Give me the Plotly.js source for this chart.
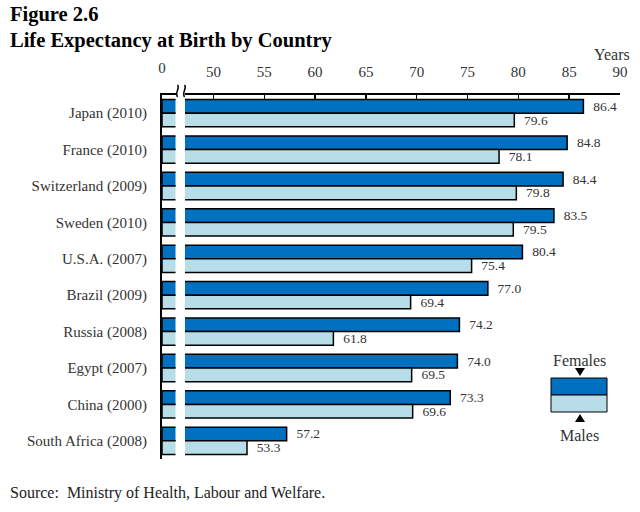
<!DOCTYPE html>
<html>
<head>
<meta charset="utf-8">
<script src="https://cdn.plot.ly/plotly-3.0.1.min.js"></script>
<style>html,body{margin:0;padding:0;background:#fff;}</style>
</head>
<body>
<div id="chart" style="width:640px;height:512px;"></div>
<script>
const countries = ["Japan (2010)","France (2010)","Switzerland (2009)","Sweden (2010)","U.S.A. (2007)","Brazil (2009)","Russia (2008)","Egypt (2007)","China (2000)","South Africa (2008)"];
const females = [86.4, 84.8, 84.4, 83.5, 80.4, 77.0, 74.2, 74.0, 73.3, 57.2];
const males = [79.6, 78.1, 79.8, 79.5, 75.4, 69.4, 61.8, 69.5, 69.6, 53.3];
const ticks = [50, 55, 60, 65, 70, 75, 80, 85, 90];

const FEM = "#0070C0", MAL = "#B7DDE8";
const SERIF = "Liberation Serif, Times New Roman, serif";
const L = 162, R = 620, T = 95, B = 459;
const W = R - L, H = B - T;
const px = x => (x - L) / W;
const py = y => 1 - (y - T) / H;

const line = {color: "#000", width: 1.5};
const valFont = {family: SERIF, size: 13.5, color: "#333"};
const traces = [
  {type: "bar", orientation: "h", name: "Females", y: countries, x: females, xaxis: "x", yaxis: "y",
   marker: {color: FEM, line: line}, textposition: "none", hoverinfo: "skip", showlegend: false},
  {type: "bar", orientation: "h", name: "Males", y: countries, x: males, xaxis: "x", yaxis: "y",
   marker: {color: MAL, line: line}, textposition: "none", hoverinfo: "skip", showlegend: false},
  {type: "bar", orientation: "h", name: "Females", y: countries, x: females, xaxis: "x2", yaxis: "y",
   marker: {color: FEM, line: line}, texttemplate: "\u00a0\u00a0%{x:.1f}", textposition: "outside",
   constraintext: "none", cliponaxis: false, textfont: valFont, showlegend: false},
  {type: "bar", orientation: "h", name: "Males", y: countries, x: males, xaxis: "x2", yaxis: "y",
   marker: {color: MAL, line: line}, texttemplate: "\u00a0\u00a0%{x:.1f}", textposition: "outside",
   constraintext: "none", cliponaxis: false, textfont: valFont, showlegend: false}
];

function sq(x0) {
  return `M ${px(x0)},${py(85)} C ${px(x0+3)},${py(88)} ${px(x0-3)},${py(92)} ${px(x0)},${py(97)}`;
}

const shapes = [
  {type: "path", xref: "paper", yref: "paper", path: sq(177.5), line: {color: "#000", width: 1.5}},
  {type: "path", xref: "paper", yref: "paper", path: sq(184.5), line: {color: "#000", width: 1.5}},
  {type: "rect", xref: "paper", yref: "paper", x0: px(551), x1: px(607), y0: py(378), y1: py(395),
   fillcolor: FEM, line: {color: "#000", width: 1}},
  {type: "rect", xref: "paper", yref: "paper", x0: px(551), x1: px(607), y0: py(395), y1: py(412),
   fillcolor: MAL, line: {color: "#000", width: 1}},
  {type: "path", xref: "paper", yref: "paper",
   path: `M ${px(575)},${py(368)} L ${px(585)},${py(368)} L ${px(580)},${py(376)} Z`, fillcolor: "#000", line: {width: 0}},
  {type: "path", xref: "paper", yref: "paper",
   path: `M ${px(575)},${py(422)} L ${px(585)},${py(422)} L ${px(580)},${py(414)} Z`, fillcolor: "#000", line: {width: 0}}
];

const ann = (x, y, text, opts) => Object.assign({xref: "paper", yref: "paper", x: px(x), y: py(y), text: text,
  showarrow: false, font: {family: SERIF, size: 16, color: "#333"}}, opts || {});

const annotations = [
  ann(8, 15, "<b>Figure 2.6</b>", {xanchor: "left", yanchor: "middle", font: {family: SERIF, size: 20.5, color: "#000"}}),
  ann(8, 40, "<b>Life Expectancy at Birth by Country</b>", {xanchor: "left", yanchor: "middle", font: {family: SERIF, size: 20.5, color: "#000"}}),
  ann(612, 55, "Years", {xanchor: "center", yanchor: "middle"}),
  ann(579, 360, "Females", {xanchor: "center", yanchor: "middle"}),
  ann(579, 435, "Males", {xanchor: "center", yanchor: "middle"}),
  ann(8, 493, "Source:\u00a0 Ministry of Health, Labour and Welfare.", {xanchor: "left", yanchor: "middle", font: {family: SERIF, size: 16, color: "#222"}})
];

const axFont = {family: SERIF, size: 15, color: "#333"};
const layout = {
  width: 640, height: 512,
  margin: {l: L, r: 640 - R, t: T, b: 512 - B, pad: 0},
  paper_bgcolor: "#fff", plot_bgcolor: "#fff",
  barmode: "group", bargap: 0.25, bargroupgap: 0,
  showlegend: false,
  xaxis: {domain: [0, px(175.5)], range: [0, 1.3], side: "top", anchor: "y",
    tickvals: [0], ticktext: ["0"], ticks: "", showgrid: false, zeroline: false,
    showline: true, linecolor: "#000", linewidth: 2, tickfont: axFont, ticklabelstandoff: 14, fixedrange: true},
  xaxis2: {domain: [px(185), 1], range: [47.2, 90], side: "top", anchor: "y",
    tickvals: ticks, ticks: "inside", ticklen: 4, tickwidth: 1.5, tickcolor: "#000",
    showgrid: false, zeroline: false, showline: true, linecolor: "#000", linewidth: 2,
    tickfont: axFont, ticklabelstandoff: 10, fixedrange: true},
  yaxis: {type: "category", categoryarray: countries, autorange: "reversed", anchor: "x",
    showline: true, linecolor: "#000", linewidth: 2, ticks: "", showgrid: false, zeroline: false,
    tickfont: axFont, ticklabelstandoff: 10, fixedrange: true},
  shapes: shapes,
  annotations: annotations
};

Plotly.newPlot("chart", traces, layout, {displayModeBar: false, staticPlot: true});
</script>
</body>
</html>
